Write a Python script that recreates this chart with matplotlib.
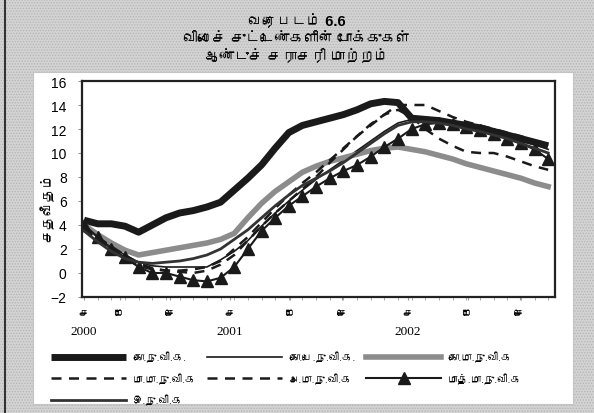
import matplotlib
matplotlib.use("Agg")
import matplotlib.pyplot as plt
from matplotlib import font_manager
from matplotlib.ft2font import FT2Font
from matplotlib.lines import Line2D
from matplotlib.patches import Rectangle
import matplotlib.transforms as mtransforms
import numpy as np

# ---- data (annual average change, %, monthly Jan 2000 .. Nov 2002) ----
months = np.arange(35)

ccpi = [4.4, 4.1, 4.1, 3.9, 3.4, 4.0, 4.6, 5.0, 5.2, 5.5, 5.9, 6.9,
        7.9, 9.0, 10.4, 11.7, 12.3, 12.6, 12.9, 13.2, 13.6, 14.1, 14.3, 14.2,
        12.9, 12.8, 12.7, 12.5, 12.3, 12.1, 11.8, 11.5, 11.2, 10.9, 10.6]
cgpi = [3.8, 3.0, 2.2, 1.5, 0.9, 0.6, 0.5, 0.5, 0.5, 0.5, 1.1, 1.8,
        2.7, 3.9, 5.0, 6.0, 6.9, 7.8, 8.6, 9.4, 10.2, 11.0, 11.8, 12.5,
        12.8, 12.7, 12.6, 12.4, 12.2, 12.0, 11.7, 11.4, 11.0, 10.7, 10.3]
cdcpi = [4.0, 3.2, 2.5, 1.9, 1.5, 1.7, 1.9, 2.1, 2.3, 2.5, 2.8, 3.3,
         4.6, 5.8, 6.8, 7.6, 8.4, 8.9, 9.3, 9.6, 9.9, 10.2, 10.4, 10.5,
         10.3, 10.1, 9.8, 9.5, 9.1, 8.8, 8.5, 8.2, 7.9, 7.5, 7.2]
pdcpi = [3.6, 2.8, 2.0, 1.2, 0.6, 0.3, 0.2, 0.2, 0.3, 0.5, 1.0, 2.0,
         3.0, 4.2, 5.4, 6.5, 7.5, 8.4, 9.4, 10.4, 11.4, 12.3, 13.2, 14.0,
         14.0, 14.0, 13.5, 13.0, 12.6, 12.3, 12.0, 11.7, 11.4, 11.0, 10.6]
adcpi = [3.8, 3.0, 2.2, 1.5, 0.8, 0.4, 0.2, 0.1, 0.0, 0.2, 0.7, 1.5,
         2.7, 3.9, 5.0, 6.0, 7.0, 8.0, 9.2, 10.3, 11.4, 12.4, 13.2, 13.6,
         13.0, 12.0, 11.2, 10.6, 10.1, 10.0, 10.0, 9.7, 9.3, 8.9, 8.6]
mdcpi = [4.0, 3.0, 2.0, 1.3, 0.5, 0.0, 0.0, -0.3, -0.6, -0.7, -0.4, 0.5,
         2.0, 3.5, 4.6, 5.6, 6.4, 7.2, 7.9, 8.5, 9.0, 9.7, 10.5, 11.2,
         12.0, 12.4, 12.5, 12.4, 12.2, 11.9, 11.6, 11.2, 10.8, 10.3, 9.5]
idcpi = [3.5, 2.6, 1.8, 1.2, 0.9, 0.8, 0.9, 1.0, 1.2, 1.5, 2.0, 2.8,
         3.6, 4.6, 5.6, 6.5, 7.3, 7.9, 8.5, 9.2, 10.0, 10.8, 11.6, 12.3,
         12.6, 12.6, 12.5, 12.3, 12.0, 11.8, 11.5, 11.2, 10.8, 10.4, 10.0]

series_labels = ["கொ.நு.வி.க.", "கொ.பெ.நு.வி.க.", "கொ.மா.நு.வி.க",
                 "மா.மா.நு.வி.க", "அ.மா.நு.வி.க", "மாத்.மா.நு.வி.க",
                 "இ.நு.வி.க"]
month_labels = ["ச", "மே", "செ", "ச", "மே", "செ", "ச", "மே", "செ"]
month_label_pos = [0, 2.6, 6.3, 10.7, 15.1, 18.9, 23.7, 28.1, 31.9]
year_labels = ["2000", "2001", "2002"]
year_label_pos = [0, 10.7, 23.7]
title_lines = "வரைபடம் 6.6\nவிலைச் சுட்டெண்களின் போக்குகள்\nஆண்டுச் சராசரி மாற்றம்"
ylabel = "சதவீதம்"


def tamil_family():
    """Return an installed family that has Tamil glyphs, if there is one."""
    for f in font_manager.fontManager.ttflist:
        try:
            if FT2Font(f.fname).get_char_index(0x0B95):
                return f.name
        except Exception:
            continue
    return None


tam = tamil_family()
tfam = ["Liberation Sans", tam, "DejaVu Sans"] if tam else ["DejaVu Sans"]
plt.rcParams['font.family'] = ["Liberation Sans", "DejaVu Sans"]
plt.rcParams['hatch.linewidth'] = 0.6

fig = plt.figure(figsize=(5.94, 4.14), dpi=100)

# stippled grey surround and white panel
fig.patches.append(Rectangle((0, 0), 1, 1, transform=fig.transFigure,
                             facecolor="#d3d3d3", edgecolor="#b4b4b4",
                             hatch="......", lw=0, zorder=-10))
fig.patches.append(Rectangle((33 / 594, 1 - 405 / 414), 540 / 594, 332 / 414,
                             transform=fig.transFigure, facecolor="white",
                             edgecolor="#c4c4c4", lw=0.8, zorder=-9))
fig.lines.append(Line2D([5 / 594, 5 / 594], [0, 1], transform=fig.transFigure,
                        color="#333333", lw=1.5))

fig.text(0.5, 1 - 39 / 414, title_lines, ha="center", va="center",
         family=tfam, fontsize=10.5, fontweight="bold", linespacing=1.25)

ax = fig.add_axes([82 / 594, 1 - 298 / 414, 473 / 594, 216 / 414])

ax.plot(months, ccpi, color="#1a1a1a", lw=5, solid_capstyle="butt", label=series_labels[0])
ax.plot(months, cgpi, color="#1a1a1a", lw=1.2, label=series_labels[1])
ax.plot(months, cdcpi, color="#8c8c8c", lw=4, label=series_labels[2])
ax.plot(months, pdcpi, color="#1a1a1a", lw=1.8, ls=(0, (4, 3)), label=series_labels[3])
ax.plot(months, adcpi, color="#1a1a1a", lw=1.8, ls=(0, (4, 3)), label=series_labels[4])
ax.plot(months, mdcpi, color="#1a1a1a", lw=1.5, marker="^", ms=8,
        label=series_labels[5])
ax.plot(months, idcpi, color="#333333", lw=2, label=series_labels[6])

ax.set_xlim(-0.15, 34.5)
ax.set_ylim(-2, 16)
ax.set_yticks(np.arange(-2, 17, 2))
ax.tick_params(axis="y", labelsize=10, length=3, color="#999999", pad=8)
ax.set_xticks(month_label_pos)
ax.set_xticklabels(month_labels, family=tfam, fontsize=8)
ax.set_xticks(months, minor=True)
ax.tick_params(axis="x", which="both", length=2, color="#999999", pad=6)
for s in ax.spines.values():
    s.set_linewidth(1.6)
    s.set_color("#222222")

trans = mtransforms.blended_transform_factory(ax.transData, ax.transAxes)
for pos, lab in zip(year_label_pos, year_labels):
    ax.text(pos, -34 / 216, lab, transform=trans, ha="center", va="center",
            family="Liberation Serif", fontsize=9.5)

ax.set_ylabel(ylabel, family=tfam, fontsize=10, fontweight="bold")
ax.yaxis.set_label_coords(-27 / 473, 0.42)

# legend, filled row by row in three columns
h, l = ax.get_legend_handles_labels()
order = [0, 3, 6, 1, 4, 2, 5]
fig.legend([h[i] for i in order], [l[i] for i in order], ncol=3,
           loc="upper left", bbox_to_anchor=(42 / 594, 1 - 343 / 414),
           frameon=False, prop={"family": tfam, "size": 7.5},
           handlelength=7.2, handletextpad=0.6, columnspacing=1.1,
           labelspacing=1.0, markerfirst=True, numpoints=1, markerscale=1.0)

fig.savefig("out.png", dpi=100)
